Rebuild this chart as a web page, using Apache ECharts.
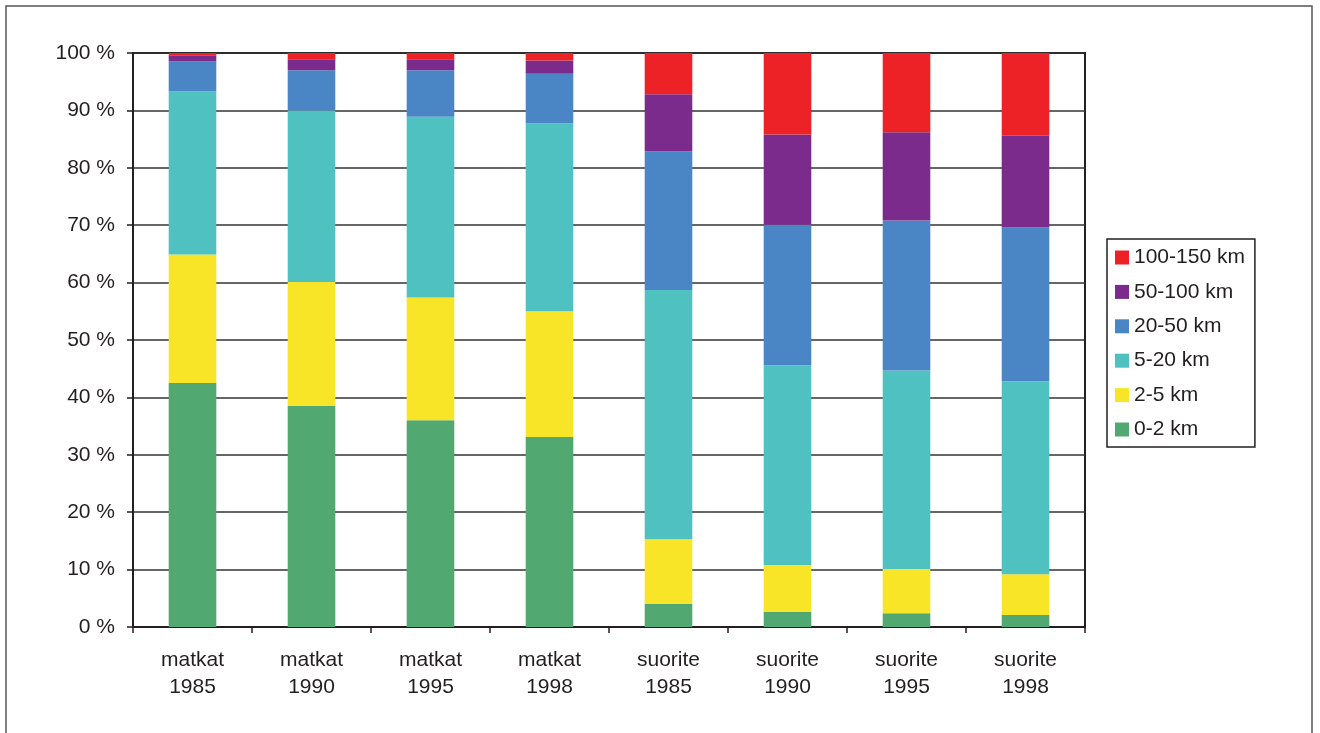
<!DOCTYPE html>
<html>
<head>
<meta charset="utf-8">
<script src="https://cdn.jsdelivr.net/npm/echarts@6/dist/echarts.min.js"></script>
<style>
  html, body { margin: 0; padding: 0; background: #ffffff; }
  #chart { width: 1320px; height: 733px; }
</style>
</head>
<body>
<div id="chart"></div>
<script>
// Trips (matkat) and mileage (suorite) shares by trip length, %
const categories = ['matkat\n1985', 'matkat\n1990', 'matkat\n1995', 'matkat\n1998',
                    'suorite\n1985', 'suorite\n1990', 'suorite\n1995', 'suorite\n1998'];

const km0_2     = [42.5, 38.5, 36.0, 33.1,  4.0,  2.6,  2.4,  2.1];
const km2_5     = [22.4, 21.6, 21.4, 21.9, 11.3,  8.2,  7.7,  7.1];
const km5_20    = [28.4, 29.9, 31.5, 32.7, 43.4, 34.8, 34.6, 33.6];
const km20_50   = [ 5.2,  7.0,  8.1,  8.7, 24.2, 24.5, 26.1, 26.8];
const km50_100  = [ 1.1,  1.9,  1.9,  2.3,  9.9, 15.7, 15.4, 16.0];
const km100_150 = [ 0.4,  1.1,  1.1,  1.3,  7.2, 14.2, 13.8, 14.4];

const yTicks = [0, 10, 20, 30, 40, 50, 60, 70, 80, 90, 100];

const seriesDefs = [
  { name: '0-2 km',     data: km0_2,     color: '#51a971' },
  { name: '2-5 km',     data: km2_5,     color: '#f8e527' },
  { name: '5-20 km',    data: km5_20,    color: '#4fc1c0' },
  { name: '20-50 km',   data: km20_50,   color: '#4a86c5' },
  { name: '50-100 km',  data: km50_100,  color: '#7a2b8b' },
  { name: '100-150 km', data: km100_150, color: '#ed2227' }
];

const FONT = '"Liberation Sans", Arial, sans-serif';
const INK = '#231f20';

const chart = echarts.init(document.getElementById('chart'), null, { renderer: 'canvas' });

chart.setOption({
  animation: false,
  backgroundColor: '#ffffff',
  textStyle: { fontFamily: FONT, color: INK },
  graphic: [{
    type: 'rect',
    shape: { x: 6, y: 6, width: 1306, height: 760 },
    style: { fill: null, stroke: '#555555', lineWidth: 1.5 },
    silent: true,
    z: -10
  }],
  grid: {
    left: 133, right: 235, top: 53, bottom: 106,
    show: true,
    borderColor: INK,
    borderWidth: 2,
    backgroundColor: 'transparent'
  },
  legend: {
    orient: 'vertical',
    left: 1107, top: 239,
    padding: [8, 10, 7, 8],
    itemWidth: 14, itemHeight: 14,
    itemGap: 13.4,
    borderColor: INK,
    borderWidth: 1.5,
    icon: 'rect',
    data: seriesDefs.map(s => s.name).reverse(),
    textStyle: { fontFamily: FONT, fontSize: 21, color: INK, lineHeight: 20 }
  },
  xAxis: {
    type: 'category',
    data: categories,
    axisLine: { lineStyle: { color: INK, width: 2 } },
    axisTick: { show: true, alignWithLabel: false, length: 6, lineStyle: { color: INK, width: 1.5 } },
    axisLabel: {
      fontFamily: FONT, fontSize: 21, color: INK, lineHeight: 27, margin: 20,
      interval: 0
    }
  },
  yAxis: {
    type: 'value',
    min: yTicks[0],
    max: yTicks[yTicks.length - 1],
    interval: yTicks[1] - yTicks[0],
    axisLine: { show: true, lineStyle: { color: INK, width: 2 } },
    axisTick: { show: true, length: 6, lineStyle: { color: INK, width: 1.5 } },
    axisLabel: {
      fontFamily: FONT, fontSize: 21, color: INK, margin: 18,
      formatter: '{value} %'
    },
    splitLine: { show: true, lineStyle: { color: '#333333', width: 1.5 } }
  },
  series: seriesDefs.map(s => ({
    name: s.name,
    type: 'bar',
    stack: 'share',
    barWidth: '40%',
    data: s.data,
    itemStyle: { color: s.color },
    emphasis: { disabled: true }
  }))
});
</script>
</body>
</html>
